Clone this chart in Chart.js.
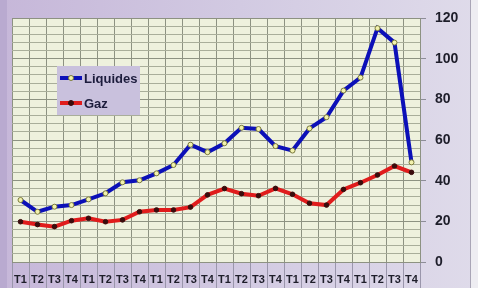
<!DOCTYPE html>
<html lang="fr">
<head>
    <meta charset="UTF-8">
    <title>Liquides / Gaz</title>
    <script src="https://cdn.jsdelivr.net/npm/chart.js"></script>
    <style>
        body { margin: 0; background: #e0dcea; }
        canvas { display: block; }
    </style>
</head>
<body>
    <canvas id="chart" width="478" height="288"></canvas>

    <script>
        const quarters = ['T1', 'T2', 'T3', 'T4'];
        const labels = [];
        for (let y = 0; y < 6; y++) quarters.forEach(q => labels.push(q));

        const liquides = [30.5, 24.7, 27.2, 28, 30.8, 33.8, 39.2, 40.2, 43.6, 47.7, 57.7, 54,
                          58.4, 66, 65.4, 57, 54.8, 65.7, 71.2, 84.3, 90.7, 115, 107.9, 49];
        const gaz = [19.8, 18.4, 17.4, 20.3, 21.5, 19.8, 20.7, 24.7, 25.6, 25.6, 27, 33,
                     36.1, 33.6, 32.6, 36.2, 33.3, 28.9, 28, 35.7, 39, 42.8, 47.2, 44.1];

        const yMin = 0, yMax = 120, yMinor = 4, yMajor = 20;

        // fond violet + zone de tracé beige
        const backgroundPlugin = {
            id: 'background',
            beforeDraw(chart) {
                const ctx = chart.ctx;
                const a = chart.chartArea;
                const g = ctx.createLinearGradient(0, 0, chart.width, 0);
                g.addColorStop(0, '#c6b7d9');
                g.addColorStop(0.5, '#d2cae2');
                g.addColorStop(1, '#dfdbea');
                ctx.save();
                ctx.fillStyle = g;
                ctx.fillRect(0, 0, chart.width, chart.height);
                ctx.fillStyle = '#b9aad0';
                ctx.fillRect(0, 0, 7, chart.height);
                ctx.fillStyle = '#eeedf2';
                ctx.fillRect(470, 0, chart.width - 470, chart.height);
                ctx.fillStyle = '#a9a5b6';
                ctx.fillRect(470, 0, 1, chart.height);
                ctx.fillStyle = '#eef1dd';
                ctx.fillRect(a.left, a.top, a.right - a.left, a.bottom - a.top);
                ctx.restore();
            }
        };

        // légende dans la zone de tracé
        const legendPlugin = {
            id: 'boxLegend',
            afterDatasetsDraw(chart) {
                const ctx = chart.ctx;
                ctx.save();
                ctx.fillStyle = '#c9c1dd';
                ctx.fillRect(57, 66, 83, 49);
                chart.data.datasets.forEach((ds, i) => {
                    const y = 78 + i * 25;
                    ctx.strokeStyle = ds.borderColor;
                    ctx.lineWidth = 4;
                    ctx.beginPath();
                    ctx.moveTo(60, y);
                    ctx.lineTo(82, y);
                    ctx.stroke();
                    ctx.beginPath();
                    ctx.arc(71, y, 2.5, 0, Math.PI * 2);
                    ctx.fillStyle = ds.pointBackgroundColor;
                    ctx.fill();
                    ctx.lineWidth = 1;
                    ctx.strokeStyle = ds.pointBorderColor;
                    ctx.stroke();
                    ctx.fillStyle = '#1c1c3c';
                    ctx.font = 'bold 13px "Liberation Sans", Arial, sans-serif';
                    ctx.textBaseline = 'middle';
                    ctx.fillText(ds.label, 84, y + 1);
                });
                ctx.restore();
            }
        };

        new Chart(document.getElementById('chart'), {
            type: 'line',
            data: {
                labels: labels,
                datasets: [{
                    label: 'Liquides',
                    data: liquides,
                    borderColor: '#0c10b8',
                    borderWidth: 4,
                    pointRadius: 2.5,
                    pointBackgroundColor: '#f2f2ae',
                    pointBorderColor: '#7c7c3c',
                    pointBorderWidth: 1,
                    tension: 0
                }, {
                    label: 'Gaz',
                    data: gaz,
                    borderColor: '#e01c1c',
                    borderWidth: 4,
                    pointRadius: 2.3,
                    pointBackgroundColor: '#3a0c0c',
                    pointBorderColor: '#3a0c0c',
                    pointBorderWidth: 1,
                    tension: 0
                }]
            },
            options: {
                responsive: false,
                animation: false,
                devicePixelRatio: 1,
                layout: { padding: { left: 12, top: 18, right: 8, bottom: 0 } },
                plugins: {
                    legend: { display: false },
                    tooltip: { enabled: false }
                },
                scales: {
                    x: {
                        offset: true,
                        grid: {
                            offset: true,
                            color: '#8d9282',
                            tickColor: '#9a96ab',
                            tickLength: 26
                        },
                        border: { color: '#8d9282' },
                        ticks: {
                            autoSkip: false,
                            maxRotation: 0,
                            padding: -15,
                            color: '#1e1e2a',
                            font: { family: '"Liberation Sans", Arial, sans-serif', size: 11, weight: 'bold' }
                        },
                        afterFit: s => { s.height = 26; }
                    },
                    y: {
                        position: 'right',
                        min: yMin,
                        max: yMax,
                        grid: {
                            color: c => c.tick.value % yMajor === 0 ? '#8d9282' : '#a9ae9a',
                            tickColor: c => c.tick.value % yMajor === 0 ? '#8d8d98' : 'rgba(0,0,0,0)',
                            tickLength: 6
                        },
                        border: { color: '#8d9282' },
                        ticks: {
                            stepSize: yMinor,
                            autoSkip: false,
                            padding: 9,
                            color: '#1e1e2a',
                            font: { family: '"Liberation Sans", Arial, sans-serif', size: 14, weight: 'bold' },
                            callback: v => v % yMajor === 0 ? v : ''
                        },
                        afterFit: s => { s.width = 50; }
                    }
                }
            },
            plugins: [backgroundPlugin, legendPlugin]
        });
    </script>
</body>
</html>
